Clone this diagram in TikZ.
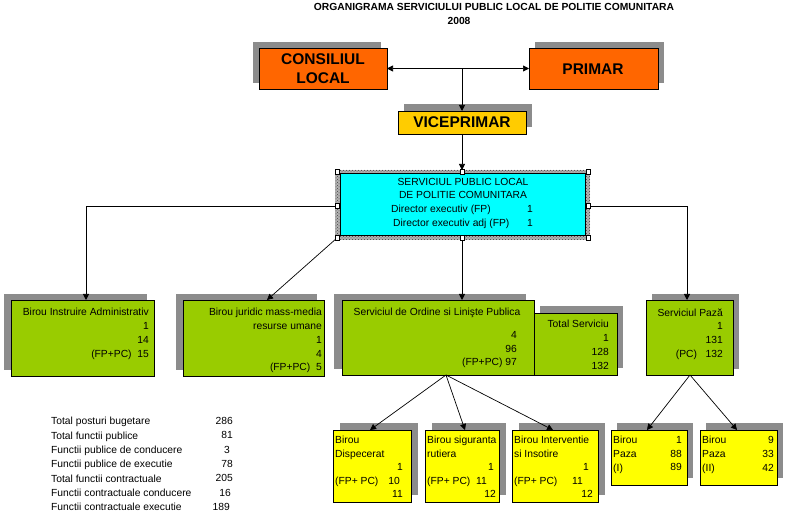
\documentclass[tikz,border=0pt]{standalone}
\usepackage{fontspec}
\setmainfont{Liberation Sans}
\usetikzlibrary{arrows.meta,patterns,calc}
\definecolor{corange}{HTML}{FF6600}
\definecolor{cvice}{HTML}{FFCC00}
\definecolor{ccyan}{HTML}{00FFFF}
\definecolor{cgreen}{HTML}{99CC00}
\definecolor{cyell}{HTML}{FFFF00}
\definecolor{cshd}{HTML}{8C8C8C}
\newcommand\fsm{\fontsize{10.3}{13.7}\selectfont}
\newcommand\fbig{\fontsize{15.5}{19}\selectfont\bfseries}
\newcommand\mkbox[8]{%
  \fill[shd] ({#2+(#6)},{#3+(#7)}) rectangle ({#4+(#6)},{#5+(#7)});
  \node[box,fill=#8,minimum width={#4-#2},minimum height={#5-#3}] (#1) at ({(#2+#4)/2},{(#3+#5)/2}) {};
}
\tikzset{
  shd/.style={fill=cshd},
  box/.style={draw=black,line width=0.7pt,inner sep=0pt,outer sep=0pt},
  txt/.style={inner sep=0pt,font=\fsm},
  ctr/.style={text height=7.4pt,text depth=0pt},
  arr/.style={draw=black,line width=0.7pt,-{Triangle[length=6pt,width=6pt]}},
  arr2/.style={draw=black,line width=0.7pt,{Triangle[length=6pt,width=6pt]}-{Triangle[length=6pt,width=6pt]}},
  hnd/.style={draw=black,fill=white,minimum size=4.5pt,inner sep=0pt,line width=0.5pt},
}
\begin{document}
\begin{tikzpicture}[x=1pt,y=-1pt]
\useasboundingbox[fill=white] (0,0) rectangle (790,529);

% title
\node[txt,ctr,font=\fsm\bfseries] (title) at (494,7) {ORGANIGRAMA SERVICIULUI PUBLIC LOCAL DE POLITIE COMUNITARA};
\node[txt,ctr,font=\fsm\bfseries] (year) at (459,21) {2008};

% top boxes
\mkbox{cl}{259}{48}{387}{89}{-6}{-6}{corange}
\mkbox{pr}{529}{48}{658}{89}{6}{-6}{corange}
\mkbox{vp}{398}{111}{526}{134}{6}{-7}{cvice}
\node[align=center,inner sep=0pt,font=\fbig] (cl-t) at (323,69) {CONSILIUL\\LOCAL};
\node[inner sep=0pt,font=\fbig] (pr-t) at (593,69) {PRIMAR};
\node[inner sep=0pt,font=\fbig] (vp-t) at (462,122) {VICEPRIMAR};

% service box
\node[inner sep=0pt,outer sep=0pt,minimum width=255,minimum height=70,
      preaction={fill=gray!60},pattern=crosshatch dots,pattern color=black!75] (sf) at (462.5,205) {};
\node[box,fill=ccyan,minimum width=245,minimum height=62] (sv) at (462.5,204) {};
\node[txt,ctr] (sv1) at (463,182) {SERVICIUL PUBLIC LOCAL};
\node[txt,ctr] (sv2) at (463,195) {DE POLITIE COMUNITARA};
\node[txt,ctr,anchor=west] (sv3) at (391,209) {Director executiv (FP)};
\node[txt,ctr] (sv3n) at (530,209) {1};
\node[txt,ctr,anchor=west] (sv4) at (393,223) {Director executiv adj (FP)};
\node[txt,ctr] (sv4n) at (530,223) {1};

% level 2 boxes
\mkbox{bi}{11}{300}{154}{376}{-7}{-6}{cgreen}
\mkbox{bj}{183}{300}{324}{376}{-7}{-6}{cgreen}
\mkbox{so}{342}{300}{534}{375}{-8}{-6}{cgreen}
\mkbox{ts}{534}{313}{617}{375}{6}{-7}{cgreen}
\mkbox{sp}{646}{300}{733}{375}{6}{-6}{cgreen}

\node[txt,align=right,anchor=north east] (bi-t) at (149,308.3) {Birou Instruire Administrativ\\1\\14\\(FP+PC)\ \ 15};
\node[txt,align=right,anchor=north east] (bj-t) at (322,308.3) {Birou juridic mass-media\\resurse umane\\1\\4\\(FP+PC)\ \ 5};
\node[txt,ctr] (so-t) at (437,312) {Serviciul de Ordine si Linişte Publica};
\node[txt,align=right,anchor=north east] (so-n) at (517,331.3) {4\\96\\(FP+PC)\ 97};
\node[txt,align=right,anchor=north east] (ts-t) at (609,320.3) {Total Serviciu\\1\\128\\132};
\node[txt,align=right,anchor=north east] (sp-t) at (723,308.3) {Serviciul Pază\\1\\131\\(PC)\ \ \ 132};

% level 3 boxes
\mkbox{bd}{333}{430}{411}{502}{7}{-7}{cyell}
\mkbox{bs}{425}{430}{499}{502}{7}{-7}{cyell}
\mkbox{bn}{512}{430}{598}{502}{7}{-7}{cyell}
\mkbox{pa}{611}{430}{687}{485}{6}{-7}{cyell}
\mkbox{pb}{700}{430}{777}{485}{6}{-7}{cyell}

\node[txt,align=left,anchor=north west] (bd-t) at (335,436.3) {Birou\\Dispecerat};
\node[txt,ctr,anchor=west] (bd-f) at (335,481) {(FP+ PC)};
\node[txt,align=right,anchor=north east] (bd-n) at (403,463.3) {1\\10\kern3pt\\11};
\node[txt,align=left,anchor=north west] (bs-t) at (427,436.3) {Birou siguranta\\rutiera};
\node[txt,ctr,anchor=west] (bs-f) at (427,481) {(FP+ PC)};
\node[txt,align=right,anchor=north east] (bs-n) at (496,463.3) {1\kern2pt\\11\kern9pt\\12};
\node[txt,align=left,anchor=north west] (bn-t) at (514,436.3) {Birou Interventie\\si Insotire};
\node[txt,ctr,anchor=west] (bn-f) at (514,481) {(FP+ PC)};
\node[txt,align=right,anchor=north east] (bn-n) at (593,463.3) {1\kern4pt\\11\kern10pt\\12};
\node[txt,align=left,anchor=north west] (pa-t) at (613,436.3) {Birou\\Paza\\(I)};
\node[txt,align=right,anchor=north east] (pa-n) at (682,436.3) {1\\88\\89};
\node[txt,align=left,anchor=north west] (pb-t) at (702,436.3) {Birou\\Paza\\(II)};
\node[txt,align=right,anchor=north east] (pb-n) at (774,436.3) {9\\33\\42};

% stats
\node[txt,align=left,anchor=north west,font=\fontsize{10.3}{14.3}\selectfont] (st-l) at (51,417.3)
 {Total posturi bugetare\\Total functii publice\\Functii publice de conducere\\Functii publice de executie\\Total functii contractuale\\Functii contractuale conducere\\Functii contractuale executie};
\node[txt,align=right,anchor=north east,font=\fontsize{10.3}{14.3}\selectfont] (st-r) at (233,417.3)
 {286\\81\\3\kern3pt\\78\\205\\16\kern2pt\\189\kern3pt};

% connectors
\draw[arr2] (cl.east) -- (pr.west);
\coordinate (j) at (462,68.5);
\draw[arr] (j) -- (vp.north);
\draw[arr] (vp.south) -- (vp.south |- sf.north);
\draw[arr] (337,206) -| ([xshift=75pt]bi.north west);
\draw[arr] (337,238) -- ([xshift=84pt]bj.north west);
\draw[arr] (462,238) -- ([xshift=120pt]so.north west);
\draw[arr] (588,206) -| ([xshift=41pt]sp.north west);
\coordinate (so-b) at ([xshift=104pt]so.south west);
\draw[arr] (so-b) -- ([xshift=37pt]bd.north west);
\draw[arr] (so-b) -- ([xshift=40pt]bs.north west);
\draw[arr] (so-b) -- ([xshift=41pt]bn.north west);
\coordinate (sp-b) at ([xshift=44pt]sp.south west);
\draw[arr] (sp-b) -- ([xshift=36pt]pa.north west);
\draw[arr] (sp-b) -- ([xshift=37pt]pb.north west);

% selection handles
\node[hnd] (h1) at (337,172) {};
\node[hnd] (h2) at (462,172) {};
\node[hnd] (h3) at (588,172) {};
\node[hnd] (hW) at (337,206) {};
\node[hnd] (hE) at (588,206) {};
\node[hnd] (hSW) at (337,238) {};
\node[hnd] (hS) at (462,238) {};
\node[hnd] (hSE) at (588,238) {};
\end{tikzpicture}
\end{document}
